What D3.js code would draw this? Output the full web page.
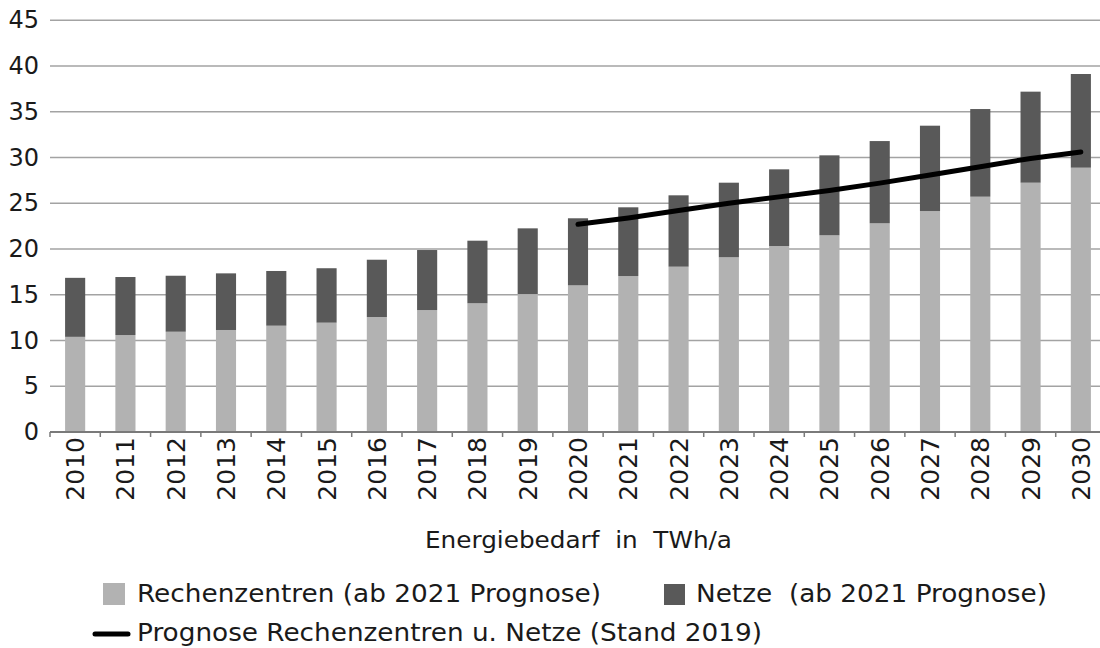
<!DOCTYPE html>
<html>
<head>
<meta charset="utf-8">
<script src="https://cdn.jsdelivr.net/npm/d3@7"></script>
<style>
  html, body { margin: 0; padding: 0; background: #fff; }
  svg { display: block; }
  text { font-family: "DejaVu Sans", sans-serif; fill: #1a1a1a; white-space: pre; }
</style>
</head>
<body>
<svg id="chart" width="1100" height="648"></svg>
<script>
// ---- data ----
const years = ["2010","2011","2012","2013","2014","2015","2016","2017","2018","2019","2020",
               "2021","2022","2023","2024","2025","2026","2027","2028","2029","2030"];
const rechenzentren = [10.4,10.6,10.96,11.15,11.62,11.95,12.57,13.33,14.07,15.08,16.03,
                       17.05,18.07,19.1,20.33,21.5,22.81,24.15,25.72,27.25,28.89];
const netze = [6.45,6.34,6.12,6.19,5.98,5.95,6.26,6.56,6.84,7.18,7.33,
               7.51,7.8,8.15,8.38,8.74,8.99,9.33,9.58,9.95,10.24];
const prognoseYears = ["2020","2021","2022","2023","2024","2025","2026","2027","2028","2029","2030"];
const prognose = [22.7,23.4,24.2,25.0,25.7,26.4,27.2,28.1,29.0,29.9,30.6];
const yTicks = [0,5,10,15,20,25,30,35,40,45];
const seriesNames = ["Rechenzentren (ab 2021 Prognose)", "Netze  (ab 2021 Prognose)",
                     "Prognose Rechenzentren u. Netze (Stand 2019)"];
const axisTitle = "Energiebedarf  in  TWh/a";

// ---- layout ----
const svg = d3.select("#chart");
const colors = { rz: "#b2b2b2", nz: "#595959", line: "#000000" };

const x = d3.scaleBand().domain(years).range([50, 1106]).paddingInner(0.6).paddingOuter(0.3);
const y = d3.scaleLinear().domain([0, 45]).range([432, 20.3]);

// gridlines
svg.append("g").selectAll("line").data(yTicks.filter(d => d > 0)).join("line")
  .attr("x1", 50).attr("x2", 1100)
  .attr("y1", d => y(d)).attr("y2", d => y(d))
  .attr("stroke", "#a3a3a3").attr("stroke-width", 1.4);

// y labels
svg.append("g").selectAll("text").data(yTicks).join("text")
  .attr("x", 39).attr("y", d => y(d))
  .attr("text-anchor", "end").attr("dominant-baseline", "central")
  .attr("font-size", 24)
  .text(d => d);

// stacked bars
const table = years.map((yr, i) => ({ year: yr, rz: rechenzentren[i], nz: netze[i] }));
const stack = d3.stack().keys(["rz", "nz"])(table);
svg.append("g").selectAll("g").data(stack).join("g")
  .attr("fill", d => colors[d.key])
  .selectAll("rect").data(d => d).join("rect")
  .attr("x", d => x(d.data.year))
  .attr("width", x.bandwidth())
  .attr("y", d => y(d[1]))
  .attr("height", d => y(d[0]) - y(d[1]));

// x axis line and ticks
const step = x.step();
const boundaries = years.map(d => x(d) - step * 0.3).concat([x(years[years.length - 1]) + x.bandwidth() + step * 0.3]);
svg.append("line").attr("x1", 50).attr("x2", 1100).attr("y1", y(0)).attr("y2", y(0))
  .attr("stroke", "#7a7a7a").attr("stroke-width", 2);
svg.append("g").selectAll("line").data(boundaries).join("line")
  .attr("x1", d => d).attr("x2", d => d)
  .attr("y1", y(0)).attr("y2", y(0) + 5)
  .attr("stroke", "#7a7a7a").attr("stroke-width", 1.5);

// x labels
svg.append("g").selectAll("text").data(years).join("text")
  .attr("transform", d => `translate(${x(d) + x.bandwidth() / 2 + 0.5},437) rotate(-90)`)
  .attr("text-anchor", "end").attr("dominant-baseline", "central")
  .attr("font-size", 25)
  .text(d => d);

// forecast line
const line = d3.line().x(d => x(d.year) + x.bandwidth() / 2).y(d => y(d.v));
svg.append("path")
  .datum(prognoseYears.map((yr, i) => ({ year: yr, v: prognose[i] })))
  .attr("d", line)
  .attr("fill", "none").attr("stroke", colors.line)
  .attr("stroke-width", 5).attr("stroke-linecap", "round").attr("stroke-linejoin", "round");

// axis title
svg.append("text").attr("x", 425).attr("y", 548)
  .attr("font-size", 23).attr("textLength", 307).attr("lengthAdjust", "spacingAndGlyphs")
  .text(axisTitle);

// legend
const lg = svg.append("g");
lg.append("rect").attr("x", 103).attr("y", 583).attr("width", 22).attr("height", 22).attr("fill", colors.rz);
lg.append("text").attr("x", 137).attr("y", 601.5).attr("font-size", 24)
  .attr("textLength", 464).attr("lengthAdjust", "spacingAndGlyphs").text(seriesNames[0]);
lg.append("rect").attr("x", 664).attr("y", 584).attr("width", 21).attr("height", 21).attr("fill", colors.nz);
lg.append("text").attr("x", 696).attr("y", 601.5).attr("font-size", 24)
  .attr("textLength", 351).attr("lengthAdjust", "spacingAndGlyphs").text(seriesNames[1]);
lg.append("line").attr("x1", 95).attr("x2", 128).attr("y1", 634).attr("y2", 634)
  .attr("stroke", colors.line).attr("stroke-width", 5).attr("stroke-linecap", "round");
lg.append("text").attr("x", 137).attr("y", 641).attr("font-size", 24)
  .attr("textLength", 625).attr("lengthAdjust", "spacingAndGlyphs").text(seriesNames[2]);
</script>
</body>
</html>
